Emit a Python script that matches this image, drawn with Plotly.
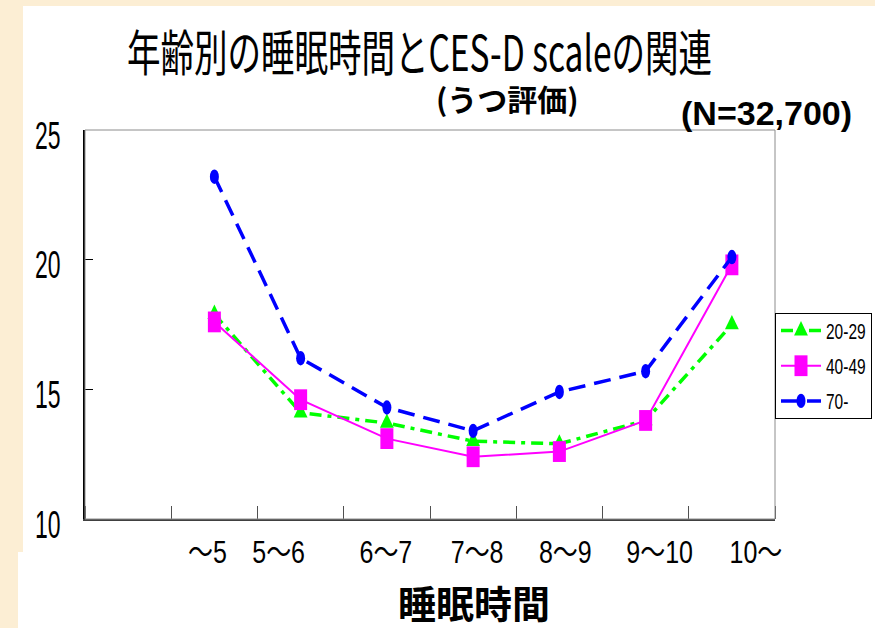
import json
import plotly.graph_objects as go

# Sleep-duration categories (the first slot on the axis is left empty)
categories = ["～5", "5～6", "6～7", "7～8", "8～9", "9～10", "10～"]
axis_slots = [" "] + categories

# Mean CES-D score by age group
age_20_29 = [17.9, 14.1, 13.7, 13.0, 12.9, 13.8, 17.5]
age_40_49 = [17.6, 14.6, 13.1, 12.4, 12.6, 13.8, 19.8]
age_70_up = [23.2, 16.2, 14.3, 13.4, 14.9, 15.7, 20.1]

y_ticks = [10, 15, 20, 25]

title_text = "年齢別の睡眠時間とCES-D scaleの関連"
subtitle_text = "(うつ評価)"
n_text = "(N=32,700)"
x_title = "睡眠時間"

W, H = 875, 628
L, R, T, B = 85, 100, 130, 109
PW, PH = W - L - R, H - T - B
SLOT = PW / len(axis_slots)


def px(x):
    return (x - L) / PW


def py(y):
    return (H - B - y) / PH


# x position of every category on the slot axis
x_pos = [axis_slots.index(c) for c in categories]
# small horizontal nudges (pixels) of the category labels under the axis
label_nudge = [-7, -22, -1, 4, 6, 14, 24]
label_pos = [p + d / SLOT for p, d in zip(x_pos, label_nudge)]

SANS = "Liberation Sans, Arial, Noto Sans CJK JP, sans-serif"
CJK = "Noto Sans CJK JP, sans-serif"

fig = go.Figure()

fig.add_trace(go.Scatter(
    x=x_pos, y=age_20_29, name="20-29", mode="lines+markers",
    line=dict(color="#00FF00", width=3.5, dash="12px,6px,4px,6px"),
    marker=dict(symbol="triangle-up", size=12, color="#00FF00"),
    legendgroup="a",
))
fig.add_trace(go.Scatter(
    x=x_pos, y=age_40_49, name="40-49", mode="lines+markers",
    line=dict(color="#FF00FF", width=2),
    marker=dict(symbol="square", size=13, color="#FF00FF"),
    legendgroup="b",
))
fig.add_trace(go.Scatter(
    x=x_pos, y=age_70_up, name="70-", mode="lines+markers",
    line=dict(color="#0000FF", width=3.5, dash="17px,9px"),
    marker=dict(symbol="circle", size=9, color="#0000FF"),
    legendgroup="c",
))

shapes = [
    # white page over the textured backdrop
    dict(type="rect", xref="paper", yref="paper", x0=px(23), x1=px(W + 5), y0=py(6), y1=py(H + 5),
         fillcolor="white", line=dict(width=0), layer="below"),
    dict(type="rect", xref="paper", yref="paper", x0=px(18), x1=px(24), y0=py(552), y1=py(H + 5),
         fillcolor="white", line=dict(width=0), layer="below"),
    # thin frame around the plotting area
    dict(type="rect", xref="paper", yref="paper", x0=0, x1=1, y0=0, y1=1,
         line=dict(color="#8c8c8c", width=1), layer="above"),
]

annotations = [
    dict(text=title_text, x=px(419), y=py(50), font=dict(family=CJK, size=33.5, color="black")),
    dict(text=subtitle_text, x=px(507), y=py(98), font=dict(family=CJK, size=30, color="black", weight="bold")),
    dict(text=n_text, x=px(766), y=py(113), font=dict(family=SANS, size=34, color="black", weight="bold")),
    dict(text=x_title, x=px(474), y=py(601), font=dict(family=CJK, size=38, color="black", weight="bold")),
]
for a in annotations:
    a.update(xref="paper", yref="paper", showarrow=False, xanchor="center", yanchor="middle")

fig.update_layout(
    width=W, height=H,
    margin=dict(l=L, r=R, t=T, b=B, pad=0, autoexpand=False),
    paper_bgcolor="#FCEED4",
    plot_bgcolor="white",
    shapes=shapes,
    annotations=annotations,
    showlegend=True,
    legend=dict(
        xref="container", yref="container",
        x=(L + PW) / W, y=1 - 313 / H, xanchor="left", yanchor="top",
        bgcolor="white", bordercolor="black", borderwidth=1,
        font=dict(family=SANS, size=15.5, color="black"),
        itemwidth=40, tracegroupgap=12,
    ),
    xaxis=dict(
        range=[-0.5, len(axis_slots) - 0.5],
        tickmode="array", tickvals=label_pos, ticktext=categories,
        ticks="", ticklen=0,
        minor=dict(tick0=0.5, dtick=1, ticks="inside", ticklen=13, tickcolor="#505050", tickwidth=1),
        showline=True, linecolor="#404040", linewidth=1.5,
        tickfont=dict(family=SANS, size=25, color="black"),
        ticklabelstandoff=10,
        showgrid=False, zeroline=False, fixedrange=True,
    ),
    yaxis=dict(
        range=[10, 25], tickvals=y_ticks,
        showline=True, linecolor="black", linewidth=1.5,
        ticks="inside", ticklen=8, tickcolor="black", tickwidth=1,
        tickfont=dict(family=SANS, size=23, color="black"),
        ticklabelstandoff=18, ticklabelshift=5,
        showgrid=False, zeroline=False, fixedrange=True,
    ),
)

# Tall, condensed lettering: vertical stretch factors per text / marker group
text_stretch = {title_text: 1.47}
js = """
(function(){
var gd = document.getElementById('{plot_id}');
var TS = %s;
function stretch(el, s, centre){
  if (!el || el.getAttribute('data-st')) return;
  var t = el.getAttribute('transform') || '';
  if (centre) {
    var b = el.getBBox();
    var cx = b.x + b.width/2, cy = b.y + b.height/2;
    t += ' translate(' + cx + ',' + cy + ') scale(1,' + s + ') translate(' + (-cx) + ',' + (-cy) + ')';
  } else {
    t += ' scale(1,' + s + ')';
  }
  el.setAttribute('transform', t);
  el.setAttribute('data-st', '1');
}
function apply(){
  gd.querySelectorAll('text.annotation-text').forEach(function(el){
    var s = TS[el.textContent];
    if (s) stretch(el, s, true);
  });
  gd.querySelectorAll('g.ytick text').forEach(function(el){ stretch(el, 1.7, true); });
  gd.querySelectorAll('g.xtick text').forEach(function(el){ stretch(el, 1.25, true); });
  gd.querySelectorAll('text.legendtext').forEach(function(el){ stretch(el, 1.45, true); });
  gd.querySelectorAll('g.points path.point').forEach(function(el){ stretch(el, 1.6, false); });
  gd.querySelectorAll('g.legendpoints path.scatterpts').forEach(function(el){ stretch(el, 1.6, false); });
}
apply();
if (gd.on) gd.on('plotly_afterplot', apply);
})();
""" % json.dumps(text_stretch, ensure_ascii=False)

fig.write_html("out.html", post_script=js, config=dict(displayModeBar=False))
